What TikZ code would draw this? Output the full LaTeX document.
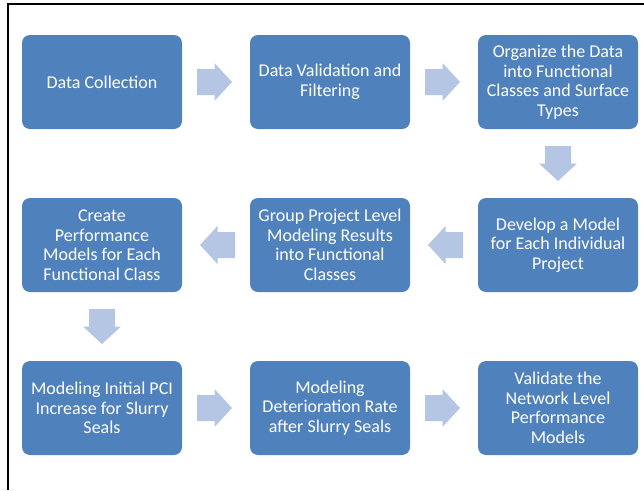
\documentclass[tikz,border=0pt]{standalone}
\usepackage{fontspec}
\setmainfont{Carlito}
\usetikzlibrary{calc}
\definecolor{boxblue}{HTML}{4F81BD}
\definecolor{arrowblue}{HTML}{B4C6E3}
\tikzset{
  stepbox/.style={rectangle, rounded corners=8pt, fill=boxblue, text=white,
    minimum width=160pt, minimum height=94pt, inner sep=0pt, align=center,
    font=\fontsize{18pt}{19.5pt}\selectfont},
  blockarrow/.style={fill=arrowblue}
}
% block arrow pointing right, centred at the given coordinate, rotated by #2
\newcommand\blockarr[2]{%
  \fill[blockarrow, shift={(#1)}, rotate=#2]
    (-17.5,-13) -- (0,-13) -- (0,-19) -- (17.5,0) -- (0,19) -- (0,13) -- (-17.5,13) -- cycle;}
\begin{document}
\begin{tikzpicture}[x=1pt,y=-1pt]
\useasboundingbox (0,0) rectangle (644,490);
\draw[line width=2pt] (7.5,490) -- (7.5,4.3) -- (644,4.3);
% row 1
\node[stepbox] (b1) at (102,82) {Data Collection};
\node[stepbox] (b2) at (330,82) {Data Validation and\\Filtering};
\node[stepbox] (b3) at (558,82) {Organize the Data\\into Functional\\Classes and Surface\\Types};
% row 2
\node[stepbox] (b4) at (558,245) {Develop a Model\\for Each Individual\\Project};
\node[stepbox] (b5) at (330,245) {Group Project Level\\Modeling Results\\into Functional\\Classes};
\node[stepbox] (b6) at (102,245) {Create\\Performance\\Models for Each\\Functional Class};
% row 3
\node[stepbox] (b7) at (102,408) {Modeling Initial PCI\\Increase for Slurry\\Seals};
\node[stepbox] (b8) at (330,408) {Modeling\\Deterioration Rate\\after Slurry Seals};
\node[stepbox] (b9) at (558,408) {Validate the\\Network Level\\Performance\\Models};
% arrow positions
\coordinate (a12) at ($(b1.east)!0.5!(b2.west)+(-1.5,0)$);
\coordinate (a23) at ($(b2.east)!0.5!(b3.west)+(-1.5,0)$);
\coordinate (a34) at ($(b3.south)!0.5!(b4.north)$);
\coordinate (a45) at ($(b4.west)!0.5!(b5.east)+(1.5,0)$);
\coordinate (a56) at ($(b5.west)!0.5!(b6.east)+(1.5,0)$);
\coordinate (a67) at ($(b6.south)!0.5!(b7.north)$);
\coordinate (a78) at ($(b7.east)!0.5!(b8.west)+(-1.5,0)$);
\coordinate (a89) at ($(b8.east)!0.5!(b9.west)+(-1.5,0)$);
\blockarr{a12}{0}
\blockarr{a23}{0}
\blockarr{a34}{-90}
\blockarr{a45}{180}
\blockarr{a56}{180}
\blockarr{a67}{-90}
\blockarr{a78}{0}
\blockarr{a89}{0}
\end{tikzpicture}
\end{document}
